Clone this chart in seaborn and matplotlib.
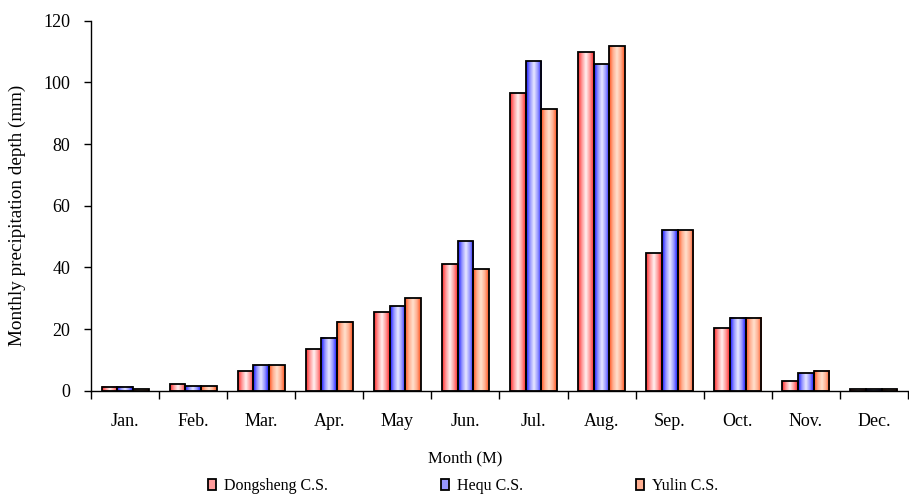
import numpy as np
import pandas as pd
import seaborn as sns
import matplotlib.pyplot as plt
from matplotlib.patches import Patch

# monthly precipitation
months = ["Jan.", "Feb.", "Mar.", "Apr.", "May", "Jun.",
          "Jul.", "Aug.", "Sep.", "Oct.", "Nov.", "Dec."]
stations = ["Dongsheng C.S.", "Hequ C.S.", "Yulin C.S."]
dongsheng = [1.3, 2.1, 6.4, 13.5, 25.6, 41.0, 96.5, 109.8, 44.7, 20.4, 3.2, 0.4]
hequ = [1.3, 1.4, 8.4, 17.2, 27.5, 48.6, 107.0, 106.0, 52.0, 23.7, 5.7, 0.4]
yulin = [0.6, 1.4, 8.4, 22.4, 30.1, 39.5, 91.3, 111.8, 52.0, 23.7, 6.5, 0.4]

df = pd.DataFrame({
    "month": months * 3,
    "station": np.repeat(stations, len(months)),
    "precip": dongsheng + hequ + yulin,
})

# edge / mid / centre colours for the shaded bars
shades = {
    "Dongsheng C.S.": [(255, 40, 40), (255, 155, 155), (255, 242, 242)],
    "Hequ C.S.": [(20, 20, 255), (150, 150, 255), (232, 232, 255)],
    "Yulin C.S.": [(255, 80, 25), (255, 175, 145), (255, 226, 206)],
}

plt.rcParams["font.family"] = ["Liberation Serif", "DejaVu Serif"]
plt.rcParams["font.size"] = 12

fig = plt.figure(figsize=(9.09, 5.01), dpi=100)
ax = fig.add_axes([91 / 909, 1 - 390.7 / 501, 817 / 909, 370 / 501])

sns.barplot(data=df, x="month", y="precip", hue="station", order=months,
            hue_order=stations, width=0.69, gap=0, ax=ax,
            edgecolor="black", linewidth=1.3, legend=False, errorbar=None)

# horizontal gradient fill, like the old spreadsheet bars
n = 64
t = np.linspace(0, 1, n)
for cont, st in zip(ax.containers, stations):
    edge, mid, cen = [np.array(c) / 255 for c in shades[st]]
    d = np.abs(t - 0.5) * 2  # 0 at centre, 1 at edges
    w1 = np.clip(d * 2, 0, 1)[:, None]
    w2 = np.clip(d * 2 - 1, 0, 1)[:, None]
    col = np.where(d[:, None] < 0.5, cen * (1 - w1) + mid * w1, mid * (1 - w2) + edge * w2)
    img = col[None, :, :]
    for bar in cont:
        x, w, h = bar.get_x(), bar.get_width(), bar.get_height()
        ax.imshow(img, extent=[x, x + w, 0, h], aspect="auto",
                  interpolation="bilinear", zorder=1.5)
        bar.set_facecolor("none")
        bar.set_zorder(2)

ax.set_xlim(-0.5, 11.5)
ax.set_ylim(0, 120)
ax.set_yticks(range(0, 121, 20))
ax.set_xticks(np.arange(-0.5, 12, 1), minor=False)
ax.set_xticklabels([])
ax.set_xticks(range(12), minor=True)
ax.set_xticklabels(months, minor=True, fontsize=13)
ax.tick_params(axis="x", which="major", direction="out", length=6, width=1)
ax.tick_params(axis="x", which="minor", length=0, pad=16)
ax.tick_params(axis="y", direction="out", length=5, width=1, pad=10, labelsize=13)
for s in ["top", "right"]:
    ax.spines[s].set_visible(False)
for s in ["left", "bottom"]:
    ax.spines[s].set_linewidth(1)
ax.set_xlabel("")
ax.set_ylabel("")
fig.text(465 / 909, 1 - 458 / 501, "Month (M)", ha="center", va="center", fontsize=12)
fig.text(17 / 909, 1 - 215 / 501, "Monthly precipitation depth (mm)", rotation=90,
         ha="center", va="center", fontsize=13.8)

handles = [Patch(facecolor=np.array(shades[s][1]) / 255, edgecolor="black", linewidth=1.3)
           for s in stations]
fig.legend(handles, stations, loc="center", bbox_to_anchor=(463 / 909, 1 - 486 / 501),
           ncol=3, frameon=False, handlelength=0.5, handleheight=0.7,
           handletextpad=0.5, columnspacing=7.1, fontsize=11.5)

plt.savefig("out.png", dpi=100)
